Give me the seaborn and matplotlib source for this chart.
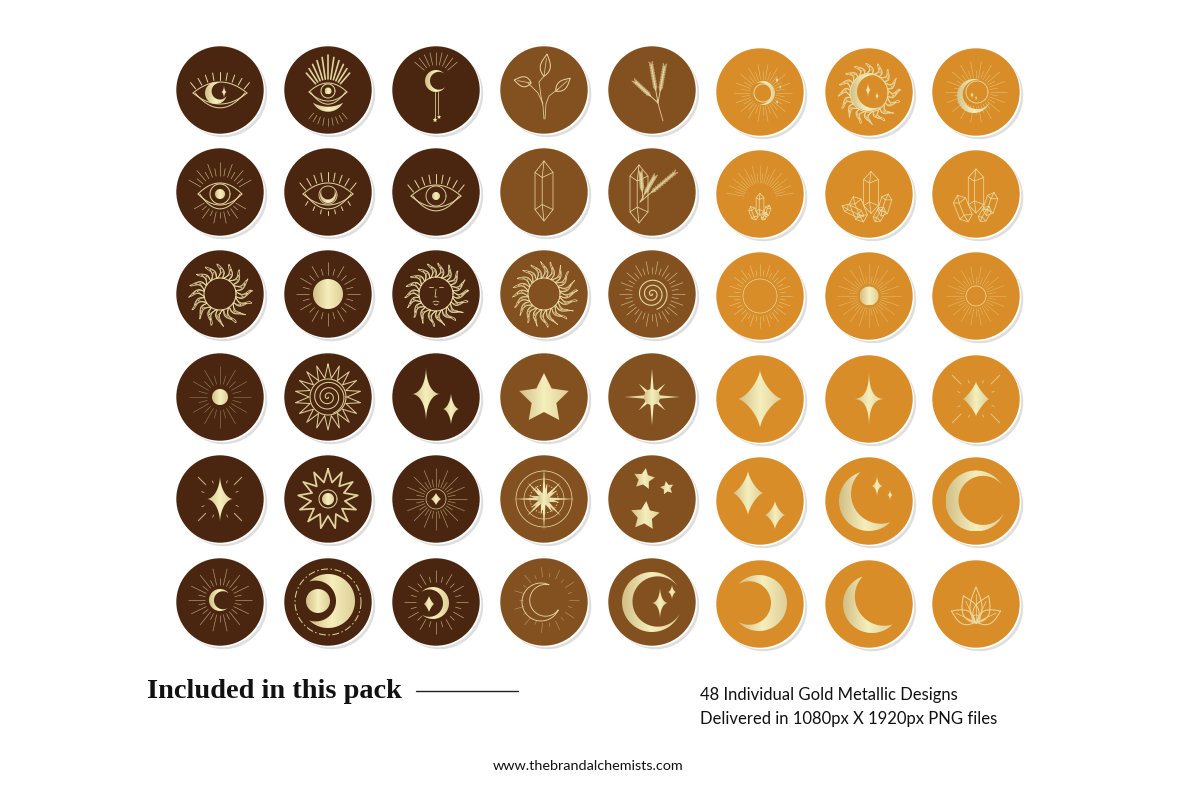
import numpy as np
import pandas as pd
import matplotlib
matplotlib.use("Agg")
import matplotlib.pyplot as plt
from matplotlib.collections import LineCollection
from matplotlib.colors import LinearSegmentedColormap
from matplotlib.patches import Polygon
import seaborn as sns

# ---------- picture content ----------
col_x = [220, 328, 436, 544, 652, 760, 869, 976]
row_y = [90, 192, 294, 397, 499, 602]
col_dy = [0, 0, 0, 0, 0, 2, 2, 2]
col_tone = ["dark", "dark", "dark", "mid", "mid", "orange", "orange", "orange"]
tone_colors = {"dark": "#4a2610", "mid": "#83511f", "orange": "#d88d28"}
icon_grid = [
    ["eye_moon", "eye_crown", "moon_drop", "plant", "wheat", "ring_moon", "flame_moon", "rays_moon"],
    ["eye_rays", "eye_crescent", "eye_disc", "crystal", "crystal_wheat", "cluster_rays", "cluster_a", "cluster_b"],
    ["flame_sun", "gold_sun", "face_sun", "flame_sun2", "spiral_rays", "thin_sun", "gold_burst", "small_sun"],
    ["dot_rays", "spiral_spikes", "two_sparkles", "star", "burst", "wide_sparkle", "thin_sparkle", "marked_sparkle"],
    ["marked_sparkle2", "spike_star", "sparkle_rays", "compass", "three_stars", "pair_sparkles", "moon_sparkles", "big_crescent"],
    ["crescent_rays", "big_moon", "moon_star_rays", "outline_moon", "moon_two_sparkles", "left_crescent", "right_crescent", "lotus"],
]
title_text = "Included in this pack"
detail_lines = ["48 Individual Gold Metallic Designs", "Delivered in 1080px X 1920px PNG files"]
site_text = "www.thebrandalchemists.com"

# ---------- base grid drawn with seaborn ----------
sns.set_theme(style="white")
plt.rcParams["font.family"] = ["Lato", "DejaVu Sans"]
fig, ax = plt.subplots(figsize=(12, 8), dpi=100)
ax.set_position([0, 0, 1, 1])

frame = pd.DataFrame(
    [{"x": x, "y": y + d, "tone": t} for y in row_y for x, d, t in zip(col_x, col_dy, col_tone)]
)
AREA = 3960
sns.scatterplot(data=frame.assign(x=frame.x + 2.6, y=frame.y + 2.6), x="x", y="y", color="#dedede",
                s=AREA, linewidth=0, ax=ax, legend=False, zorder=1)
sns.scatterplot(data=frame.assign(x=frame.x + 0.9, y=frame.y + 0.9), x="x", y="y", color="#ffffff",
                s=AREA, linewidth=0, ax=ax, legend=False, zorder=2)
sns.scatterplot(data=frame, x="x", y="y", hue="tone", palette=tone_colors, s=AREA, linewidth=0,
                ax=ax, legend=False, zorder=3)

# ---------- glyph primitives (px offsets from the circle centre) ----------
GOLD = "#e9dca6"
LW = 0.8
gold_map = LinearSegmentedColormap.from_list("gold", ["#d3bf87", "#f5efbc", "#dfcf98"])
ramp = np.linspace(0, 1, 64)[None, :]
OX, OY = 0.0, 0.0


def line(xs, ys, lw=0.7, alpha=0.95):
    ax.plot(np.asarray(xs, float) + OX, np.asarray(ys, float) + OY, color=GOLD, lw=lw * LW, alpha=alpha,
            zorder=6, solid_capstyle="round")


def rays(cx, cy, r0, r1, n, start=0, span=360, alt=None, lw=0.6, alpha=0.72):
    end = start + span if span < 360 else start + span * (n - 1) / n
    ang = np.radians(np.linspace(start, end, n))
    segs = []
    for k, a in enumerate(ang):
        r = alt if (alt is not None and k % 2) else r1
        segs.append([(OX + cx + r0 * np.cos(a), OY + cy + r0 * np.sin(a)),
                     (OX + cx + r * np.cos(a), OY + cy + r * np.sin(a))])
    ax.add_collection(LineCollection(segs, colors=GOLD, linewidths=lw * LW, alpha=alpha, zorder=6))


def ring(cx, cy, r, lw=0.7, ls="-", alpha=0.95):
    t = np.linspace(0, 2 * np.pi, 120)
    ax.plot(OX + cx + r * np.cos(t), OY + cy + r * np.sin(t), color=GOLD, lw=lw * LW, ls=ls, alpha=alpha, zorder=6)


def solid(xy):
    xy = np.asarray(xy, float) + [OX, OY]
    patch = Polygon(xy, closed=True, fc="none", ec="none", zorder=5)
    ax.add_patch(patch)
    x0, y0 = xy.min(axis=0)
    x1, y1 = xy.max(axis=0)
    im = ax.imshow(ramp, extent=[x0, x1, y1, y0], cmap=gold_map, aspect="auto", zorder=5,
                   interpolation="bilinear", vmin=0, vmax=1)
    im.set_clip_path(patch)


def disc(cx, cy, r):
    t = np.linspace(0, 2 * np.pi, 80)
    solid(np.c_[cx + r * np.cos(t), cy + r * np.sin(t)])


def sparkle(cx, cy, v, h, p=3.6):
    t = np.linspace(0, 2 * np.pi, 200)
    c, s = np.cos(t), np.sin(t)
    solid(np.c_[cx + h * np.sign(c) * np.abs(c) ** p, cy + v * np.sign(s) * np.abs(s) ** p])


def star(cx, cy, R, rot=-90, inner=0.5):
    a = np.radians(rot + np.arange(10) * 36)
    r = np.where(np.arange(10) % 2 == 0, R, R * inner)
    solid(np.c_[cx + r * np.cos(a), cy + r * np.sin(a)])


def radial_star(cx, cy, radii, rot=-90):
    r = np.asarray(radii, float)
    a = np.radians(rot + np.arange(len(r)) * 360 / len(r))
    solid(np.c_[cx + r * np.cos(a), cy + r * np.sin(a)])


def crescent_xy(cx, cy, R, opening, thick, tip):
    a, tp = np.radians(opening), np.radians(tip)
    d = (R ** 2 - (R - thick) ** 2) / (2 * (R * np.cos(tp) + R - thick))
    rho = d + R - thick
    phi = np.arctan2(R * np.sin(tp), R * np.cos(tp) - d)
    outer = a + np.linspace(tp, 2 * np.pi - tp, 90)
    inner = a + np.linspace(2 * np.pi - phi, phi, 90)
    ix, iy = cx + d * np.cos(a), cy + d * np.sin(a)
    return np.r_[np.c_[cx + R * np.cos(outer), cy + R * np.sin(outer)],
                 np.c_[ix + rho * np.cos(inner), iy + rho * np.sin(inner)]]


def crescent(cx, cy, R, opening, thick, tip=45):
    solid(crescent_xy(cx, cy, R, opening, thick, tip))


def outline_crescent(cx, cy, R, opening, thick, tip=45, lw=0.7):
    xy = crescent_xy(cx, cy, R, opening, thick, tip)
    line(np.r_[xy[:, 0], xy[0, 0]], np.r_[xy[:, 1], xy[0, 1]], lw=lw)


def eye(cx, cy, w, h, lash=0, low=0, lash_len=7, lw=0.9):
    x = np.linspace(-w, w, 60)
    y = h * (1 - (x / w) ** 2)
    line(cx + x, cy - y, lw=lw)
    line(cx + x, cy + y, lw=lw)
    line(cx + x * 0.92, cy + y * 1.35, lw=lw)
    for u in np.linspace(-0.9, 0.9, lash) if lash else []:
        x0, y0 = cx + u * w, cy - h * (1 - u ** 2) - 2
        line([x0, x0 + u * lash_len * 0.7], [y0, y0 - lash_len * (1 - 0.25 * abs(u))], lw=lw)
    for u in np.linspace(-0.8, 0.8, low) if low else []:
        x0, y0 = cx + u * w, cy + 1.35 * h * (1 - u ** 2) + 2
        line([x0, x0 + u * 3], [y0, y0 + 4], lw=lw)


def flame(cx, cy, r0, r1, n, lw=0.7):
    t = np.linspace(0, 2 * np.pi, 1600)
    k = np.floor(t / (2 * np.pi) * n)
    amp = 0.84 + 0.16 * np.cos(3.0 * k)
    for scale, width in ((1.0, lw), (0.72, lw * 0.8), (0.45, lw * 0.7)):
        u = np.abs(np.cos(n * t / 2)) ** 3
        r = r0 + (r1 - r0) * scale * amp * u
        f = (r - r0) / (r1 - r0)
        th = t + 0.11 * np.sin(f * 5.0)
        line(cx + r * np.cos(th), cy + r * np.sin(th), lw=width)
    ring(cx, cy, r0, lw=lw + 0.3)


def spiral(cx, cy, rmax, turns=3.2, lw=0.9):
    t = np.linspace(0, turns * 2 * np.pi, 300)
    r = rmax * t / t[-1]
    line(cx + r * np.cos(t), cy + r * np.sin(t), lw=lw)


def spike_ring(cx, cy, r0, r1, n, lw=0.9):
    a = np.radians(np.arange(2 * n + 1) * 180 / n - 90)
    r = np.where(np.arange(2 * n + 1) % 2 == 0, r1, r0)
    line(cx + r * np.cos(a), cy + r * np.sin(a), lw=lw)


def crystal(cx, cy, w, h, rot=0, lw=0.7):
    xs = np.array([0, w, w, 0, -w, -w, 0])
    ys = np.array([-h, -h * 0.62, h * 0.62, h, h * 0.62, -h * 0.62, -h])
    a = np.radians(rot)
    def tf(x, y):
        x, y = np.asarray(x, float), np.asarray(y, float)
        return cx + x * np.cos(a) - y * np.sin(a), cy + x * np.sin(a) + y * np.cos(a)
    line(*tf(xs, ys), lw=lw)
    line(*tf([-w, -w * 0.2, w], [-h * 0.62, -h * 0.45, -h * 0.62]), lw=lw)
    line(*tf([-w, -w * 0.2, w], [h * 0.62, h * 0.45, h * 0.62]), lw=lw)
    line(*tf([0, -w * 0.2, -w * 0.2, 0], [-h, -h * 0.45, h * 0.45, h]), lw=lw)


def leaf(x0, y0, length, angle, width, lw=0.9):
    s = np.linspace(0, 1, 40)
    b = width * np.sin(np.pi * s ** 0.8)
    a = np.radians(angle)
    for sign in (1, -1):
        lx, ly = length * s, sign * b
        line(x0 + lx * np.cos(a) - ly * np.sin(a), y0 + lx * np.sin(a) + ly * np.cos(a), lw=lw)
    line([x0, x0 + length * 0.8 * np.cos(a)], [y0, y0 + length * 0.8 * np.sin(a)], lw=lw * 0.7)


def frond(x0, y0, length, angle):
    a = np.radians(angle)
    line([x0, x0 + length * np.cos(a)], [y0, y0 + length * np.sin(a)], lw=0.8)
    for s in np.linspace(0.35, 1.0, 10):
        bx, by = x0 + length * s * np.cos(a), y0 + length * s * np.sin(a)
        for off in (25, -25):
            e = a + np.radians(off)
            line([bx, bx + 4 * np.cos(e)], [by, by + 4 * np.sin(e)], lw=1.3, alpha=0.6)


def cluster(cx, cy, scale=1.0, lw=0.7):
    crystal(cx, cy - 10 * scale, 7 * scale, 20 * scale, 0, lw)
    crystal(cx - 12 * scale, cy + 6 * scale, 6 * scale, 13 * scale, -22, lw)
    crystal(cx + 13 * scale, cy + 2 * scale, 5 * scale, 11 * scale, 18, lw)
    crystal(cx + 8 * scale, cy + 11 * scale, 4 * scale, 8 * scale, 30, lw)


# ---------- the 48 glyphs ----------
def eye_moon():
    eye(0, 3, 27, 11, lash=9, lash_len=8); crescent(-4, 3, 11, -25, 7, 42); sparkle(4, 2, 7, 3)
def eye_crown():
    for u in np.linspace(-1, 1, 11):
        a = np.radians(-90 + 41 * u)
        r1 = 43 - 10 * abs(u)
        line([19 * np.cos(a), r1 * np.cos(a)], [8 + 19 * np.sin(a), 8 + r1 * np.sin(a)], lw=1.5)
    eye(0, 2, 19, 9); ring(0, 1, 7, 0.9); disc(0, 1, 3.5)
    crescent(0, 4.7, 17, -90, 5, 118); rays(0, 6, 22, 30, 9, start=50, span=80)
def moon_drop():
    crescent(0, -9, 11, -5, 5, 38); rays(0, -10, 15, 28, 9, start=-140, span=100)
    line([-1, -1], [2, 28]); line([2, 2], [2, 24]); star(-1, 30, 2.5); star(3, 27, 2.2)
def plant():
    line([0, -1, -3, -5, 0], [29, 16, 6, -8, -14]); line([1, 2, 5, 14], [29, 14, 6, -1])
    line([-1, -6, -16], [14, 3, -7])
    leaf(0, -14, 22, -82, 5); leaf(-13, -7, 17, 190, 5); leaf(12, 1, 19, -42, 4.5)
def wheat():
    line([11, 5], [31, 10]); frond(6, 13, 30, -137); frond(6, 13, 38, -100); frond(6, 13, 36, -80)
def ring_moon():
    rays(3, 1, 13, 29, 36, alt=22, lw=0.55, alpha=0.6)
    ring(3, 1, 9, 0.9); crescent(3, 1, 12, 170, 4, 60)
    sparkle(17, -12, 4, 2); sparkle(20, -5, 3, 1.5); sparkle(17, 10, 3, 1.5)
def flame_moon():
    flame(0, 1, 19, 32, 16); crescent(0, 0, 19, -5, 7, 50); sparkle(-1, -2, 8, 3); sparkle(8, 4, 5, 2)
def rays_moon():
    rays(0, 0, 14, 31, 36, alt=22, lw=0.55, alpha=0.6); ring(1, 0, 11, 0.8)
    crescent(-2, 4, 17, -25, 6, 45); sparkle(-4, 3, 4, 2); sparkle(0, 6, 3, 1.5)
def eye_rays():
    rays(0, 6, 22, 36, 13, start=-150, span=120, alt=30); rays(0, 2, 18, 30, 11, start=30, span=120, alt=24)
    eye(0, 2, 22, 11); ring(0, 2, 10, 0.9); disc(0, 2, 5)
def eye_crescent():
    eye(0, 2, 25, 11, lash=9, low=7, lash_len=9); ring(0, 3, 9, 0.8); crescent(0, 3, 8, -90, 3.5, 50)
def eye_disc():
    eye(0, 4, 25, 11, lash=9, lash_len=9); ring(0, 4, 10, 0.8); disc(0, 4, 4)
def crystal_icon():
    crystal(0, -1, 9, 30, lw=0.7)
def crystal_wheat():
    crystal(-13, 2, 9, 29, lw=0.7); frond(-12, 10, 28, -60); frond(-12, 10, 44, -40); frond(-9, 8, 26, -95)
def cluster_rays():
    rays(0, 5, 16, 34, 25, start=-170, span=160, alt=26, lw=0.55, alpha=0.55); cluster(0, 16, 0.55)
def cluster_a():
    cluster(2, 9, 1.05); crystal(-16, 17, 4, 12, -65)
def cluster_b():
    cluster(0, 8, 1.1)
def flame_sun():
    flame(0, 0, 16, 33, 16)
def gold_sun():
    disc(0, 0, 15); rays(0, 0, 19, 32, 24, alt=26)
def face_sun():
    flame(0, 0, 17, 33, 18)
    line([-7, -3], [-7, -7]); line([3, 7], [-7, -7]); line([0, -1, 1], [-5, 3, 3])
    line([-3, 0, 3], [8, 7, 8]); line([-2, 0, 2], [10, 11, 10])
def flame_sun2():
    flame(0, 0, 16, 34, 20, lw=0.6)
def spiral_rays():
    spiral(0, 0, 16, lw=1.0); rays(0, 0, 20, 33, 36, alt=27, lw=0.6)
def thin_sun():
    ring(0, 0, 17, 0.6); rays(0, 0, 20, 32, 40, alt=26, lw=0.6, alpha=0.62)
def gold_burst():
    disc(0, 0, 9.5); rays(0, 0, 12, 32, 40, alt=20, lw=0.5, alpha=0.55)
def small_sun():
    ring(0, 0, 10, 0.7); rays(0, 0, 12, 30, 36, alt=20, lw=0.5, alpha=0.55)
def dot_rays():
    disc(0, 0, 8); rays(0, 0, 13, 31, 24, alt=22, lw=0.5, alpha=0.5)
def spiral_spikes():
    spiral(0, 0, 17, lw=0.9); ring(0, 0, 18, 0.9); spike_ring(0, 0, 19, 33, 18, lw=0.9)
def two_sparkles():
    sparkle(-10, -3, 27, 14, 3.6); sparkle(15, 12, 16, 8, 3.2)
def star_icon():
    star(0, 2, 26)
def burst():
    radial_star(0, 0, [28, 5, 19, 5] * 4); disc(0, 0, 8)
def wide_sparkle():
    sparkle(0, 0, 29, 22, 2.8)
def thin_sparkle():
    sparkle(0, 0, 29, 16, 4.2)
def marked_sparkle():
    sparkle(0, 0, 17, 13, 2.4); rays(0, 0, 21, 34, 4, start=45, lw=0.9); rays(0, 0, 17, 20, 8, start=22, lw=0.8)
def marked_sparkle2():
    sparkle(0, 0, 23, 13, 3.4); rays(0, 0, 20, 31, 4, start=45, lw=1.0); rays(0, 0, 17, 20, 8, start=22, lw=0.8)
def spike_star():
    spike_ring(0, 0, 17, 30, 13, lw=1.6); ring(0, 0, 9, 0.9); disc(0, 0, 6)
def sparkle_rays():
    ring(0, 0, 10, 0.6); sparkle(0, 0, 6, 5, 2.4); rays(0, 0, 12, 31, 32, alt=20, lw=0.6, alpha=0.6)
def compass():
    ring(0, 0, 28, 0.7); ring(0, 0, 20, 0.6); ring(0, 0, 14, 1.0, ":")
    radial_star(0, 0, [31, 4, 24, 4] * 4); radial_star(0, 0, [16, 5] * 8, rot=-78); disc(0, 0, 6)
def three_stars():
    star(-8, -20, 11, -80); star(15, -11, 7, -100); star(-7, 17, 15, -85)
def pair_sparkles():
    sparkle(-12, -8, 22, 15, 2.7); sparkle(15, 14, 14, 10, 2.7)
def moon_sparkles():
    crescent(0, 0, 30, -31, 14, 76); sparkle(8, -15, 11, 6); sparkle(21, -6, 6, 3)
def big_crescent():
    crescent(0, 0, 30.5, -5, 13, 28)
def crescent_rays():
    crescent(0, -2, 11, 5, 5, 42); rays(0, -2, 15, 32, 28, alt=22, lw=0.6, alpha=0.65)
def big_moon():
    ring(0, 0, 33, 0.9, (0, (7, 2.5, 1.5, 2.5)))
    crescent(0, -1, 27, 180, 19, 46); disc(-10, -1, 12)
def moon_star_rays():
    crescent(-3, 1, 16, 178, 6, 45); sparkle(-7, 2, 8, 5, 2.4); rays(0, 0, 20, 32, 24, alt=26)
def outline_moon():
    outline_crescent(-3, 0, 19, -20, 8, 45, 0.8); rays(2, -2, 23, 33, 22, alt=27, lw=0.55, alpha=0.5)
def moon_two_sparkles():
    crescent(0, 0, 30, -5, 10.5, 28); sparkle(8, 1, 16, 8, 3.6); sparkle(20, -10, 7, 4, 3)
def left_crescent():
    crescent(-1, -1, 28, 180, 16, 42)
def right_crescent():
    crescent(3, 0, 29, -32, 14, 77)
def lotus():
    leaf(0, 19, 36, -90, 6); leaf(0, 19, 30, -115, 8); leaf(0, 19, 30, -65, 8)
    leaf(-1, 18, 26, -155, 7); leaf(1, 18, 26, -25, 7); ring(0, 15, 4, 0.7)
    line([-9, 0, 9], [15, 19, 15])


draw = {
    "eye_moon": eye_moon, "eye_crown": eye_crown, "moon_drop": moon_drop, "plant": plant, "wheat": wheat,
    "ring_moon": ring_moon, "flame_moon": flame_moon, "rays_moon": rays_moon, "eye_rays": eye_rays,
    "eye_crescent": eye_crescent, "eye_disc": eye_disc, "crystal": crystal_icon, "crystal_wheat": crystal_wheat,
    "cluster_rays": cluster_rays, "cluster_a": cluster_a, "cluster_b": cluster_b, "flame_sun": flame_sun,
    "gold_sun": gold_sun, "face_sun": face_sun, "flame_sun2": flame_sun2, "spiral_rays": spiral_rays,
    "thin_sun": thin_sun, "gold_burst": gold_burst, "small_sun": small_sun, "dot_rays": dot_rays,
    "spiral_spikes": spiral_spikes, "two_sparkles": two_sparkles, "star": star_icon, "burst": burst,
    "wide_sparkle": wide_sparkle, "thin_sparkle": thin_sparkle, "marked_sparkle": marked_sparkle,
    "marked_sparkle2": marked_sparkle2, "spike_star": spike_star, "sparkle_rays": sparkle_rays,
    "compass": compass, "three_stars": three_stars, "pair_sparkles": pair_sparkles,
    "moon_sparkles": moon_sparkles, "big_crescent": big_crescent, "crescent_rays": crescent_rays,
    "big_moon": big_moon, "moon_star_rays": moon_star_rays, "outline_moon": outline_moon,
    "moon_two_sparkles": moon_two_sparkles, "left_crescent": left_crescent,
    "right_crescent": right_crescent, "lotus": lotus,
}

for y, names in zip(row_y, icon_grid):
    for x, d, name in zip(col_x, col_dy, names):
        OX, OY = x, y + d
        draw[name]()

# ---------- captions ----------
ax.text(147, 691, title_text, family=["Liberation Serif", "DejaVu Serif"], weight="bold", fontsize=20.4,
        color="#111111", va="center", ha="left")
ax.plot([416, 518], [690.5, 690.5], color="#222222", lw=1.0)
ax.text(700, 695, detail_lines[0], fontsize=11.95, color="#111111", va="center", ha="left")
ax.text(700, 719, detail_lines[1], fontsize=11.95, color="#111111", va="center", ha="left")
ax.text(493, 766, site_text, fontsize=10.35, color="#111111", va="center", ha="left")

ax.set_xlim(0, 1200)
ax.set_ylim(800, 0)
ax.set_aspect("auto")
ax.axis("off")
fig.savefig("out.png", dpi=100, facecolor="white")
